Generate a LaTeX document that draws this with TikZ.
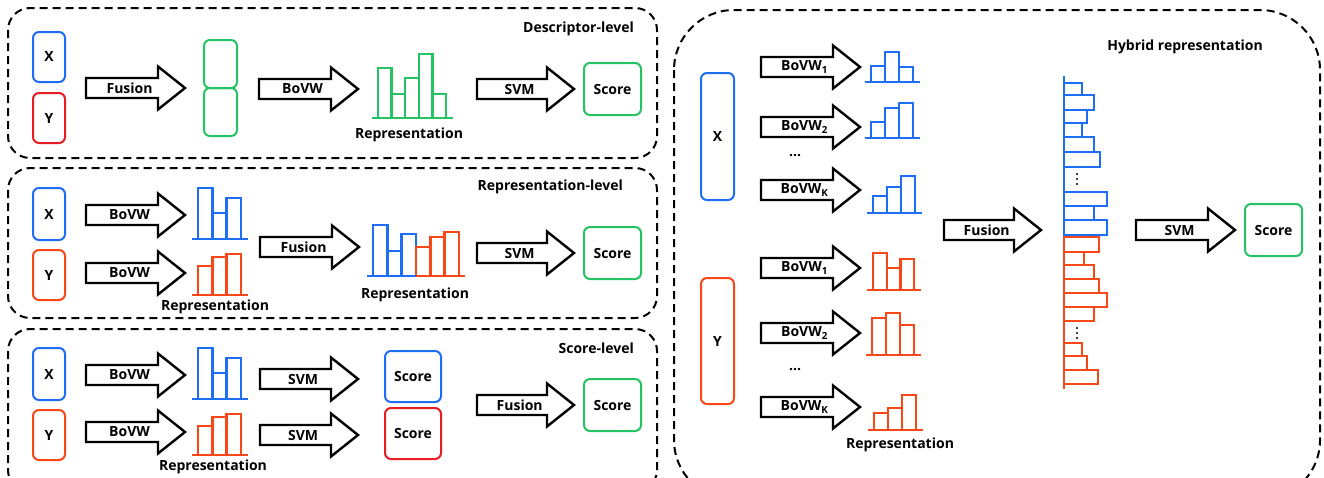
\documentclass[tikz,border=0pt]{standalone}
\usepackage{fontspec}
\setmainfont{Open Sans}
\definecolor{cblue}{RGB}{30,110,245}
\definecolor{cred}{RGB}{232,28,36}
\definecolor{corange}{RGB}{248,72,24}
\definecolor{cgreen}{RGB}{36,196,100}
\tikzset{
  panel/.style={draw=black, line width=2pt, dash pattern=on 8pt off 5pt, rounded corners=22pt},
  inbox/.style={draw, line width=2pt, rounded corners=6pt, inner sep=0pt, font=\fontsize{14}{16}\selectfont\bfseries},
  hbar/.style={line width=2.4pt},
  arrowline/.style={draw=black, line width=2.4pt, fill=white, line join=miter},
  lbl/.style={font=\fontsize{14}{16}\selectfont\bfseries, inner sep=0pt},
}
% block arrow: #1 name, #2 x1, #3 x2, #4 yc, #5 text
\newcommand{\blockarr}[5]{%
  \draw[arrowline] (#2,#4-10) -- (#3-27,#4-10) -- (#3-27,#4-21.5) -- (#3,#4)
    -- (#3-27,#4+21.5) -- (#3-27,#4+10) -- (#2,#4+10) -- cycle;
  \node[lbl] (#1) at ({#2+0.44*(#3-#2)},#4) {#5};
}
% histogram: #1 colour, #2 first bar x, #3 baseline y, #4 bar width, #5 heights, #6 count
\newcommand{\histo}[6]{%
  \foreach \h [count=\i from 0] in {#5} {
    \draw[#1,hbar] ({#2+\i*#4},#3) rectangle ({#2+(\i+1)*#4},#3-\h);
  }
  \draw[#1,hbar] ({#2-6},#3) -- ({#2+#6*#4+7},#3);
}
% horizontal bar rows: #1 colour, #2 list of top/bottom/right
\newcommand{\hrows}[2]{%
  \foreach \t/\b/\r in {#2} {
    \draw[#1,hbar] (1064,\t) rectangle (\r,\b);
  }
}
\begin{document}
\begin{tikzpicture}[x=1pt,y=-1pt]
\useasboundingbox (0,0) rectangle (1324,477);
\fill[white] (0,0) rectangle (1324,477);
\clip (0,0) rectangle (1324,477);

% ---------------- Panel 1: Descriptor-level
\draw[panel] (8,8) rectangle (657,158);
\node[lbl, anchor=east] (t1) at (634,29) {Descriptor-level};
\node[inbox, draw=cblue, minimum width=32pt, minimum height=50pt] (x1) at (49,57) {X};
\node[inbox, draw=cred, minimum width=32pt, minimum height=50pt] (y1) at (49,118) {Y};
\blockarr{f1}{86}{185}{88}{Fusion}
\node[inbox, draw=cgreen, minimum width=33pt, minimum height=48pt] (g1) at (220.5,64) {};
\node[inbox, draw=cgreen, minimum width=33pt, minimum height=48pt] (g2) at (220.5,112) {};
\blockarr{b1}{259}{358}{89}{BoVW}
\histo{cgreen}{378}{118}{13.6}{50,24,40,64,24}{5}
\node[lbl] (r1) at (409,135) {Representation};
\blockarr{s1}{477}{574}{89}{SVM}
\node[inbox, draw=cgreen, minimum width=57pt, minimum height=52pt] (sc1) at (612.5,89) {Score};

% ---------------- Panel 2: Representation-level
\draw[panel] (8,168) rectangle (657,318);
\node[lbl, anchor=east] (t2) at (623,187) {Representation-level};
\node[inbox, draw=cblue, minimum width=32pt, minimum height=52pt] (x2) at (49,214) {X};
\node[inbox, draw=corange, minimum width=32pt, minimum height=50pt] (y2) at (49,275) {Y};
\blockarr{b2a}{86}{185}{215}{BoVW}
\blockarr{b2b}{86}{185}{273}{BoVW}
\histo{cblue}{198}{239}{14.3}{51,26,41}{3}
\histo{corange}{198}{295}{14.3}{29,38,41}{3}
\node[lbl] (r2a) at (215,307) {Representation};
\blockarr{f2}{260}{359}{247}{Fusion}
\foreach \h [count=\i from 0] in {51,25,42} {
  \draw[cblue,hbar] ({373+\i*14.3},276) rectangle ({373+(\i+1)*14.3},276-\h);
}
\foreach \h [count=\i from 0] in {29,39,44} {
  \draw[corange,hbar] ({416+\i*14.3},276) rectangle ({416+(\i+1)*14.3},276-\h);
}
\draw[cblue,hbar] (367,276) -- (416,276);
\draw[corange,hbar] (416,276) -- (465,276);
\node[lbl] (r2b) at (415,295) {Representation};
\blockarr{s2}{477}{574}{253}{SVM}
\node[inbox, draw=cgreen, minimum width=57pt, minimum height=52pt] (sc2) at (612.5,253) {Score};

% ---------------- Panel 3: Score-level
\draw[panel] (8,329) rectangle (657,492);
\node[lbl, anchor=east] (t3) at (634,348) {Score-level};
\node[inbox, draw=cblue, minimum width=32pt, minimum height=52pt] (x3) at (49,374) {X};
\node[inbox, draw=corange, minimum width=32pt, minimum height=50pt] (y3) at (49,435) {Y};
\blockarr{b3a}{86}{185}{375}{BoVW}
\blockarr{b3b}{86}{185}{432}{BoVW}
\histo{cblue}{198}{399}{14.3}{51,26,41}{3}
\histo{corange}{198}{455}{14.3}{29,38,41}{3}
\node[lbl] (r3) at (213,467) {Representation};
\blockarr{s3a}{260}{358}{379}{SVM}
\blockarr{s3b}{260}{358}{435}{SVM}
\node[inbox, draw=cblue, minimum width=56pt, minimum height=51pt] (sc3a) at (413,376.5) {Score};
\node[inbox, draw=cred, minimum width=56pt, minimum height=51pt] (sc3b) at (413,433.5) {Score};
\blockarr{f3}{477}{574}{405}{Fusion}
\node[inbox, draw=cgreen, minimum width=57pt, minimum height=52pt] (sc3) at (612.5,405) {Score};

% ---------------- Right panel: Hybrid representation
\draw[panel, rounded corners=60pt] (674,10) rectangle (1320,500);
\node[lbl] (t4) at (1185,47) {Hybrid representation};
\node[inbox, draw=cblue, minimum width=33pt, minimum height=127pt] (x4) at (717.5,136.5) {X};
\node[inbox, draw=corange, minimum width=33pt, minimum height=126pt] (y4) at (717.5,341) {Y};
\blockarr{k1}{761}{860}{67}{BoVW\textsubscript{1}}
\blockarr{k2}{761}{860}{127}{BoVW\textsubscript{2}}
\node[lbl] (d1) at (795,156) {...};
\blockarr{kk}{761}{860}{190}{BoVW\textsubscript{K}}
\blockarr{k4}{761}{860}{268}{BoVW\textsubscript{1}}
\blockarr{k5}{761}{860}{333}{BoVW\textsubscript{2}}
\node[lbl] (d2) at (795,370) {...};
\blockarr{k6}{761}{860}{407}{BoVW\textsubscript{K}}
\histo{cblue}{871}{82}{14}{16,30,15}{3}
\histo{cblue}{871}{138}{14}{16,30,35}{3}
\histo{cblue}{873}{213}{14}{17,26,37}{3}
\histo{corange}{873}{290}{13.7}{37,22,31}{3}
\histo{corange}{872}{355}{14}{37,42,30}{3}
\histo{corange}{874}{430}{14}{17,22,35}{3}
\node[lbl] (r4) at (900,445) {Representation};
\blockarr{f4}{944}{1041}{230}{Fusion}
% vertical (horizontal bars) histogram
\hrows{cblue}{83/95/1082,95/110/1094,110/123/1087,123/137/1082,137/152/1094,152/167/1100,192/206/1107,206/220/1094,220/235/1107}
\hrows{corange}{237/252/1099,252/265/1084,265/279/1094,279/293/1099,293/307/1107,307/321/1094,343/356/1082,356/370/1087,370/384/1098}
\draw[cblue,hbar] (1064,76) -- (1064,236);
\draw[corange,hbar] (1064,236) -- (1064,389);
\foreach \yy in {174,179,184} { \fill[black] (1077,\yy) circle (1.1); }
\foreach \yy in {328,333,338} { \fill[black] (1077,\yy) circle (1.1); }
\blockarr{s4}{1136}{1235}{230}{SVM}
\node[inbox, draw=cgreen, minimum width=57pt, minimum height=52pt] (sc4) at (1273.5,230) {Score};
\end{tikzpicture}
\end{document}
